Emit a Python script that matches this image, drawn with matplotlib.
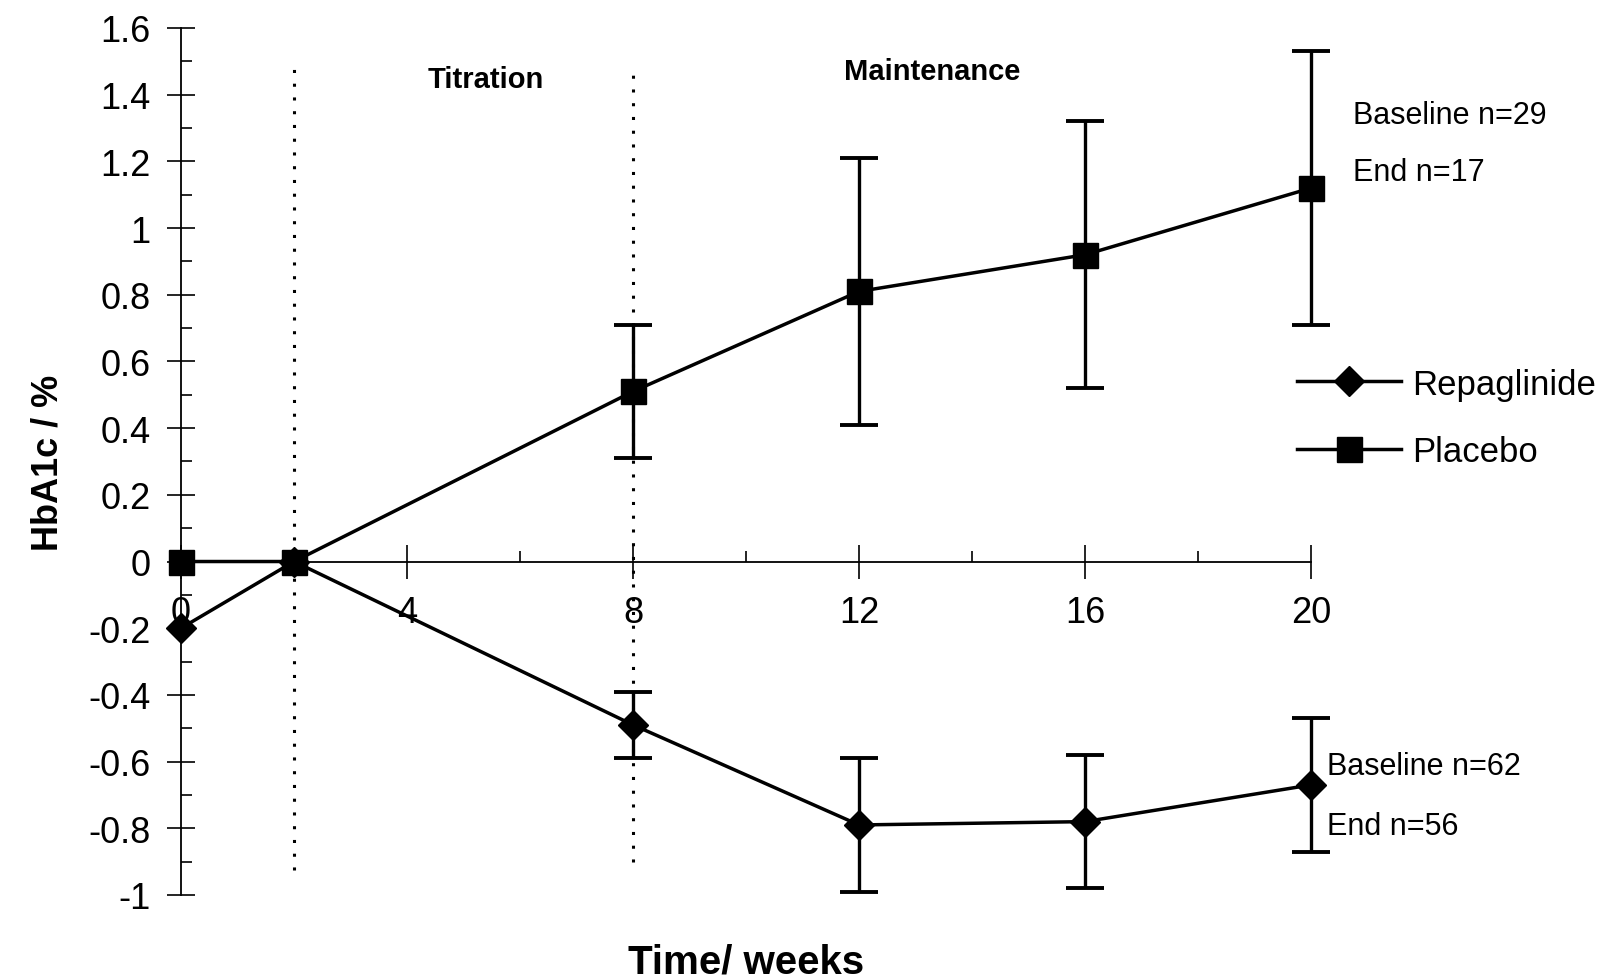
import numpy as np
import matplotlib
matplotlib.use("Agg")
import matplotlib.pyplot as plt
from matplotlib.ticker import MultipleLocator

plt.rcParams['font.family'] = ['Liberation Sans', 'DejaVu Sans']

# data
weeks = [0, 2, 8, 12, 16, 20]
repa_mean = [-0.20, 0.0, -0.49, -0.79, -0.78, -0.67]
repa_err = [0, 0, 0.10, 0.20, 0.20, 0.20]
plac_mean = [0.0, 0.0, 0.51, 0.81, 0.92, 1.12]
plac_err = [0, 0, 0.20, 0.40, 0.40, 0.41]

phase_lines = [2, 8]
phase_names = ["Titration", "Maintenance"]
phase_label_x = [5.4, 13.3]

x_ticks = [0, 4, 8, 12, 16, 20]
y_ticks = [-1, -0.8, -0.6, -0.4, -0.2, 0, 0.2, 0.4, 0.6, 0.8, 1, 1.2, 1.4, 1.6]

fig = plt.figure(figsize=(16.19, 9.79), dpi=100)
ax = fig.add_axes([0.1118, 0.0848, 0.698, 0.8856])
ax.set_xlim(0, 20)
ax.set_ylim(-1, 1.6)

# vertical dotted phase separators
dots = (0, (1, 3.5))
ax.vlines(phase_lines[0], -0.925, 1.49, colors='black', linestyles=dots, linewidth=2.2)
ax.vlines(phase_lines[1], -0.90, 1.48, colors='black', linestyles=dots, linewidth=2.2)
for name, px, py in zip(phase_names, phase_label_x, [1.447, 1.472]):
    ax.text(px, py, name, ha='center', va='center', fontsize=21, fontweight='bold')

# lines with markers
ax.plot(weeks, repa_mean, color='black', lw=2.5, marker='D', ms=15, clip_on=False,
        label='Repaglinide', zorder=4)
ax.plot(weeks, plac_mean, color='black', lw=2.5, marker='s', ms=18, clip_on=False,
        label='Placebo', zorder=4)

# error bars where present
w = np.array(weeks)
for mean, err in [(repa_mean, repa_err), (plac_mean, plac_err)]:
    m = np.array(mean)
    e = np.array(err)
    sel = e > 0
    ax.errorbar(w[sel], m[sel], yerr=e[sel], fmt='none', ecolor='black', elinewidth=2.4,
                capsize=14, capthick=2.8, clip_on=False, zorder=3)

# n annotations
ax.text(20.75, 1.338, "Baseline n=29", fontsize=22, va='center', ha='left')
ax.text(20.75, 1.167, "End n=17", fontsize=22, va='center', ha='left')
ax.text(20.29, -0.614, "Baseline n=62", fontsize=22, va='center', ha='left')
ax.text(20.29, -0.792, "End n=56", fontsize=22, va='center', ha='left')

# spines crossing at origin
ax.spines['top'].set_visible(False)
ax.spines['right'].set_visible(False)
ax.spines['bottom'].set_position(('data', 0))
ax.spines['left'].set_linewidth(1.3)
ax.spines['bottom'].set_linewidth(1.3)

ax.set_xticks(x_ticks)
ax.set_yticks(y_ticks)
ax.set_yticklabels([f"{v:g}" for v in y_ticks])
ax.xaxis.set_minor_locator(MultipleLocator(2))
ax.yaxis.set_minor_locator(MultipleLocator(0.1))
ax.tick_params(axis='x', which='major', direction='inout', length=24, width=1.2,
               labelsize=26, pad=12)
ax.tick_params(axis='x', which='minor', direction='in', length=8, width=1.2)
ax.tick_params(axis='y', which='major', direction='inout', length=20, width=1.2,
               labelsize=26, pad=12)
ax.tick_params(axis='y', which='minor', direction='in', length=8, width=1.2)

ax.set_ylabel("HbA1c / %", fontsize=26, fontweight='bold', labelpad=16)
ax.set_xlabel("Time/ weeks", fontsize=29, fontweight='bold')
ax.xaxis.set_label_coords(0.5, -0.055)

leg = ax.legend(loc='center left', bbox_to_anchor=(0.782, 0.572), bbox_transform=fig.transFigure,
                frameon=False, fontsize=25, handlelength=3.0, handletextpad=0.3,
                labelspacing=1.0)

fig.savefig("out.png", dpi=100)
